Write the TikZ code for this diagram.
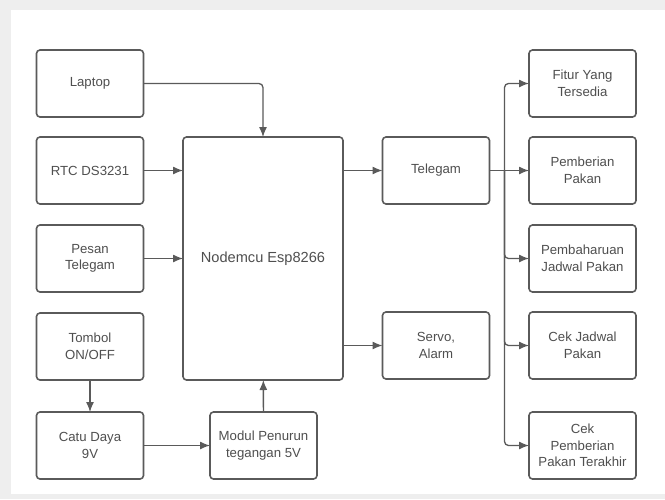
\documentclass[tikz,border=0pt]{standalone}
\usepackage{fontspec}
\setmainfont{Liberation Sans}
\usetikzlibrary{arrows.meta}
\definecolor{linegray}{HTML}{5A5A5A}
\definecolor{textgray}{HTML}{4F4F4F}
\definecolor{pagegray}{HTML}{EEEEEE}
\begin{document}
\begin{tikzpicture}[x=1pt, y=-1pt]
\tikzset{ >={Latex[length=10pt,width=8pt]}, inner sep=0pt, outer sep=0pt,
  blok/.style={draw=linegray, line width=1.6pt, rounded corners=3.5pt, fill=white,
    minimum width=107pt, minimum height=67pt, align=center, text=textgray,
    font=\fontsize{13.2}{16.5}\selectfont},
  panah/.style={->, draw=linegray, line width=1.3pt, rounded corners=4pt},
}
%\draw [lightgray, dashed](0,0) grid (665,499);

\useasboundingbox (0,0) rectangle (665,499);
\fill [pagegray] (0,0) rectangle (665,499);
\fill [white] (11,10) rectangle (665,494);

% kolom kiri
\node [blok] (LAP) at (90,83.5)  {Laptop};
\node [blok] (RTC) at (90,170.5) {RTC DS3231};
\node [blok] (PT)  at (90,258.5) {Pesan\\Telegam};
\node [blok] (TB)  at (90,346.5) {Tombol\\ON/OFF};
\node [blok] (CD)  at (90,445.5) {Catu Daya\\9V};

% tengah
\node [blok, minimum width=160pt, minimum height=243pt,
  font=\fontsize{14.6}{18}\selectfont] (MCU) at (263,258.5) {Nodemcu Esp8266};
\node [blok] (MOD) at (263.5,445.5) {Modul Penurun\\tegangan 5V};
\node [blok] (TG)  at (436,170.5) {Telegam};
\node [blok] (SV)  at (436,345.5) {Servo,\\Alarm};

% kolom kanan
\node [blok] (FT) at (582.5,83.5)  {Fitur Yang\\Tersedia};
\node [blok] (PP) at (582.5,170.5) {Pemberian\\Pakan};
\node [blok] (PJ) at (582.5,258.5) {Pembaharuan\\Jadwal Pakan};
\node [blok] (CJ) at (582.5,345.5) {Cek Jadwal\\Pakan};
\node [blok] (CP) at (582.5,445.5) {Cek\\Pemberian\\Pakan Terakhir};

\coordinate (BUS) at (504.5,170.5);

\draw [panah] (LAP) -| (MCU);
\draw [panah] (RTC) -- (RTC -| MCU.west);
\draw [panah] (PT)  -- (PT -| MCU.west);
\draw [panah] (TB)  -- (CD);
\draw [panah] (CD)  -- (MOD);
\draw [panah] (MOD) -- (MCU);

\draw [panah] (MCU.east |- TG) -- (TG);
\draw [panah] (MCU.east |- SV) -- (SV);

\draw [panah, -] (TG) -- (BUS);
\draw [panah] (BUS) |- (FT);
\draw [panah] (BUS) -- (PP);
\draw [panah] (BUS) |- (PJ);
\draw [panah] (BUS) |- (CJ);
\draw [panah] (BUS) |- (CP);

\end{tikzpicture}
\end{document}
